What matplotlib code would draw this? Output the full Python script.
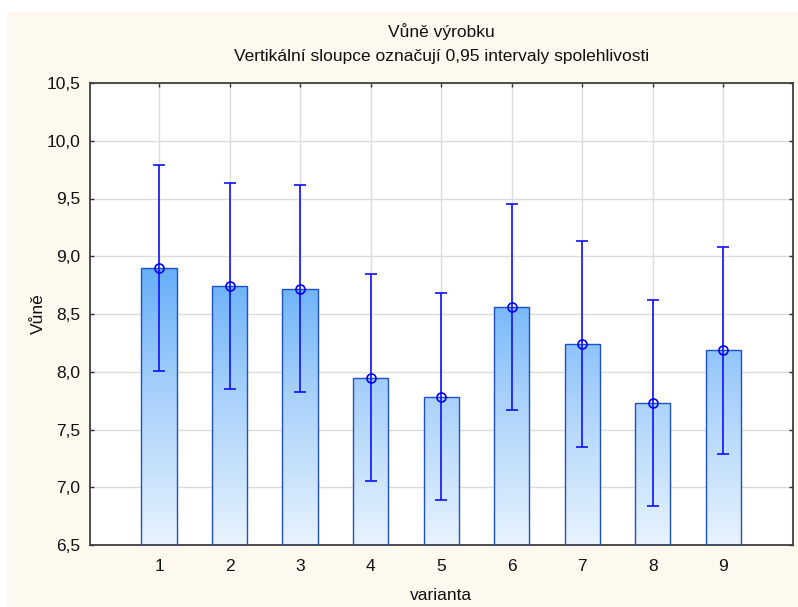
import numpy as np
import matplotlib
matplotlib.use("Agg")
import matplotlib.pyplot as plt
from matplotlib.patches import Rectangle
from matplotlib.colors import LinearSegmentedColormap
from matplotlib.ticker import FuncFormatter

# Data: mean fragrance score per variant with 95% confidence half-widths
varianty = [1, 2, 3, 4, 5, 6, 7, 8, 9]
prumery = [8.90, 8.74, 8.72, 7.95, 7.785, 8.56, 8.24, 7.73, 8.185]
ci95 = [0.893, 0.893, 0.893, 0.893, 0.893, 0.893, 0.893, 0.893, 0.893]
y_ticks = [6.5, 7.0, 7.5, 8.0, 8.5, 9.0, 9.5, 10.0, 10.5]

plt.rcParams['font.family'] = ['Liberation Sans', 'DejaVu Sans']
FS = 12.5

fig = plt.figure(figsize=(7.98, 6.07), dpi=100, facecolor='white')
# cream panel behind the chart
fig.patches.append(Rectangle((7 / 798, 0), 1 - 7 / 798, 1 - 12 / 607,
                             transform=fig.transFigure, facecolor='#FEF9EE',
                             edgecolor='none', zorder=-10))

ax = fig.add_axes([90 / 798, 1 - 545 / 607, 703 / 798, 462 / 607])
ax.set_facecolor('white')

ax.set_xticks(varianty)
ax.set_yticks(y_ticks)
ax.yaxis.set_major_formatter(FuncFormatter(lambda v, p: f"{v:.1f}".replace('.', ',')))
ax.grid(True, color='#DCDCDC', linewidth=1.0, zorder=0)
ax.set_axisbelow(True)

for s in ax.spines.values():
    s.set_color('#404040')
    s.set_linewidth(1.3)
ax.tick_params(direction='in', length=3, width=1, color='#303030',
               top=True, right=True, labelsize=FS, labelcolor='#111111')
ax.tick_params(axis='x', pad=10)
ax.tick_params(axis='y', pad=7)

cmap = LinearSegmentedColormap.from_list('bar_grad', ['#E8F3FE', '#A8D1FB', '#5AA9F8'])
grad = np.linspace(0, 1, 256).reshape(-1, 1)
width = 0.5
for x, m in zip(varianty, prumery):
    rect = Rectangle((x - width / 2, 6.5), width, m - 6.5, facecolor='none',
                     edgecolor='#1F50CC', linewidth=1.0, zorder=3)
    im = ax.imshow(grad, extent=(x - width / 2, x + width / 2, 6.5, 9.1),
                   origin='lower', cmap=cmap, aspect='auto', zorder=2,
                   interpolation='bilinear')
    clip = Rectangle((x - width / 2, 6.5), width, m - 6.5, transform=ax.transData)
    im.set_clip_path(clip)
    ax.add_patch(rect)
ax.set_xlim(0.02, 9.99)
ax.set_ylim(6.5, 10.5)

ax.errorbar(varianty, prumery, yerr=ci95, fmt='o', color='#0000FF',
            ecolor='#1010FF', elinewidth=1.2, capsize=4.5, capthick=1.5,
            markersize=6.5, markerfacecolor='none', markeredgewidth=1.2,
            zorder=4)

ax.set_xlabel('varianta', fontsize=FS, labelpad=10, color='#111111')
ax.set_ylabel('Vůně', fontsize=FS, labelpad=0, color='#111111')

cx = (90 + 793) / 2 / 798
fig.text(cx, 1 - 32 / 607, 'Vůně výrobku', ha='center', va='center',
         fontsize=FS, color='#111111')
fig.text(cx, 1 - 57 / 607, 'Vertikální sloupce označují 0,95 intervaly spolehlivosti',
         ha='center', va='center', fontsize=FS, color='#111111')

fig.savefig('out.png', dpi=100, facecolor=fig.get_facecolor())
